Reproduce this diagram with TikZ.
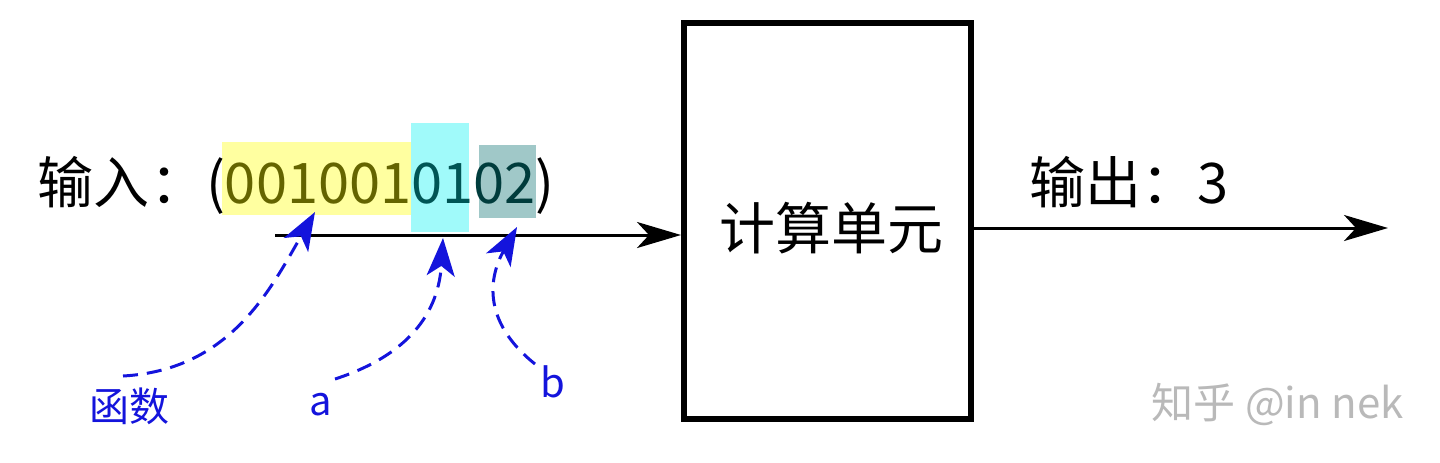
\documentclass[tikz,border=0pt]{standalone}
\usepackage{fontspec}
\setmainfont{Noto Sans CJK SC}
\usetikzlibrary{arrows.meta}
\pgfdeclarelayer{background}
\pgfsetlayers{background,main}
\definecolor{hlyellow}{RGB}{255,255,160}
\definecolor{txyellow}{RGB}{100,100,0}
\definecolor{hlcyan}{RGB}{160,250,250}
\definecolor{txcyan}{RGB}{0,85,85}
\definecolor{hlteal}{RGB}{160,200,200}
\definecolor{txteal}{RGB}{0,60,60}
\definecolor{lblue}{RGB}{20,20,220}
\definecolor{wmgray}{RGB}{185,185,185}
\tikzset{
  bigtext/.style={inner sep=0pt, outer sep=0pt, anchor=base west, font=\fontsize{28pt}{32pt}\selectfont},
  lbltext/.style={inner sep=0pt, text=lblue, font=\fontsize{20pt}{24pt}\selectfont},
  blackarrow/.style={line width=1.5pt, -{Stealth[length=22pt, width=13pt, inset=6pt]}},
  bluearrow/.style={lblue, line width=1.5pt, dash pattern=on 7.5pt off 4.5pt,
    -{Stealth[length=19pt, width=14pt, inset=5pt]}},
  unitbox/.style={draw, line width=3pt, minimum width=287*0.5pt, minimum height=396*0.5pt, inner sep=0pt}
}
\begin{document}
\begin{tikzpicture}[x=0.5pt, y=-0.5pt]
\useasboundingbox (0,0) rectangle (1440,462);
% compute box
\node[unitbox] (box) at (827.5,221) {};
\node[inner sep=0pt, font=\fontsize{28pt}{32pt}\selectfont] (boxlabel) at (831,228) {计算单元};
% input text chain
\node[bigtext] (inlabel) at (38,203) {输入：(};
\node[bigtext, text=txyellow] (seg1) at (inlabel.base east) {001001};
\node[bigtext, text=txcyan] (seg2) at (seg1.base east) {01};
\node[bigtext, text=txteal] (seg3) at (seg2.base east) {02};
\node[bigtext] (rparen) at (seg3.base east) {)};
% highlights behind the digits
\begin{pgfonlayer}{background}
\fill[hlyellow] ([xshift=-3*0.5pt]seg1.west |- 0,142) rectangle (seg1.east |- 0,215);
\fill[hlcyan] (seg2.west |- 0,123) rectangle ([xshift=-5*0.5pt]seg2.east |- 0,232);
\fill[hlteal] ([xshift=5*0.5pt]seg3.west |- 0,145) rectangle (seg3.east |- 0,218);
\end{pgfonlayer}
% input arrow
\coordinate (instart) at (275,235);
\draw[blackarrow] (instart) -- (instart -| box.west);
% output
\node[bigtext] (outlabel) at (1029,203) {输出：3};
\coordinate (outend) at (1388,228);
\draw[blackarrow] (outend -| box.east) -- (outend);
% blue labels
\node[lbltext] (lfunc) at (129,406) {函数};
\node[lbltext, anchor=base] (la) at (321,415) {a};
\node[lbltext, anchor=base] (lb) at (553,397) {b};
\coordinate (sfunc) at (123,376);
\coordinate (tfunc) at (315,212);
\coordinate (sa) at (335,379);
\coordinate (ta) at (443,238);
\coordinate (sb) at (535,364);
\coordinate (tb) at (517,227);
\draw[bluearrow] (sfunc) .. controls (230,370) and (270,290) .. (tfunc);
\draw[bluearrow] (sa) .. controls (400,358) and (438,320) .. (ta);
\draw[bluearrow] (sb) .. controls (480,320) and (490,275) .. (tb);
% watermark
\node[inner sep=0pt, anchor=base east, text=wmgray, font=\fontsize{21pt}{24pt}\selectfont] (wm) at (1404,418) {知乎 @in nek};
\end{tikzpicture}
\end{document}
